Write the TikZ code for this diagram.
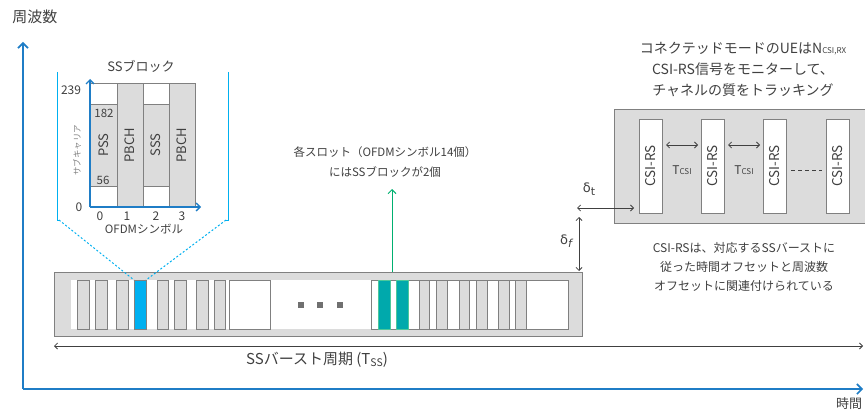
\documentclass[tikz,border=0pt]{standalone}
\usepackage{fontspec}
\setmainfont{Noto Sans CJK JP}
\newfontfamily\dvsans{DejaVu Sans}
\usetikzlibrary{arrows.meta}
\definecolor{axisblue}{HTML}{1F7DC6}
\definecolor{slotgray}{HTML}{DCDCDC}
\definecolor{lineg}{HTML}{808080}
\definecolor{txtg}{HTML}{404040}
\definecolor{ssblue}{HTML}{00B0F0}
\definecolor{teal}{HTML}{00A9AC}
\definecolor{greenl}{HTML}{00B070}
\definecolor{dotg}{HTML}{707070}
\tikzset{
  txt/.style={text=txtg, font=\fontsize{12}{20}\selectfont, align=center, inner sep=0pt},
  small/.style={text=txtg, font=\fontsize{11.5}{12}\selectfont, inner sep=0pt},
  rbox/.style={draw=lineg, line width=0.9pt, inner sep=0pt, outer sep=0pt, anchor=north west},
  slotbox/.style={rbox, fill=slotgray},
  wbox/.style={rbox, fill=white},
  axisln/.style={draw=axisblue, line width=2.4pt, -{Straight Barb[length=5pt,width=10pt,line width=1.6pt]}},
  inaxis/.style={draw=axisblue, line width=1.6pt, -{Straight Barb[length=4pt,width=8pt,line width=1.3pt]}},
  thinarr/.style={draw=txtg, line width=0.8pt, {Straight Barb[length=3pt,width=6pt]}-{Straight Barb[length=3pt,width=6pt]}},
  bracket/.style={draw=ssblue, line width=0.9pt},
  dotln/.style={draw=ssblue, line width=1pt, dash pattern=on 2pt off 2pt},
  coltxt/.style={txt, font=\fontsize{13}{14}\selectfont, rotate=90},
}
\begin{document}
\begin{tikzpicture}[x=1pt,y=-1pt]
\useasboundingbox (0,0) rectangle (865,412);
% main axes
\coordinate (o) at (23,389);
\coordinate (ftop) at (23,42);
\coordinate (tend) at (863,389);
\draw[axisln] (o) -- (ftop);
\draw[axisln] (o) -- (tend);
\node[txt, font=\fontsize{15}{17}\selectfont] (freq) at (35,17) {周波数};
\node[txt, font=\fontsize{13}{15}\selectfont] (time) at (849,404) {時間};

% burst bar
\node[slotbox, minimum width=528pt, minimum height=64pt] (bar) at (54,272) {};
\node[fill=white, inner sep=0pt, outer sep=0pt, anchor=north west, minimum width=497pt, minimum height=49pt] (inner) at (71,280) {};
\node[wbox, minimum width=41pt, minimum height=49pt] (boxA) at (229,280) {};
\node[wbox, minimum width=197pt, minimum height=49pt] (boxB) at (371,280) {};
\foreach \x/\w [count=\i] in {77/12,95/12,116/12,157/11,174/12,196/12,214/11,419/10,436/11,459/10,476/11,498/11,515/11}
  \node[slotbox, minimum width=\w pt, minimum height=49pt] (s\i) at (\x,280) {};
\node[rbox, fill=ssblue, minimum width=12pt, minimum height=49pt] (blueslot) at (134,280) {};
\node[rbox, draw=greenl!70, fill=teal, minimum width=12pt, minimum height=49pt] (teal1) at (378,280) {};
\node[rbox, draw=greenl!70, fill=teal, minimum width=12pt, minimum height=49pt] (teal2) at (396,280) {};
\foreach \x [count=\i] in {301,320,340}
  \node[fill=dotg, minimum size=6pt, inner sep=0pt] (dot\i) at (\x,305) {};

% burst period
\coordinate (bpL) at (54,346);
\coordinate (bpR) at (863,346);
\draw[thinarr] (bpL) -- (bpR);
\node[txt, font=\fontsize{15}{17}\selectfont] (bplabel) at (317,360) {SSバースト周期 (T{\fontsize{10.5}{11}\selectfont\raisebox{-1.5pt}{SS}})};

% slot annotation
\coordinate (g0) at (392,272);
\coordinate (g1) at (392,189);
\draw[draw=greenl, line width=1pt, -{Straight Barb[length=4pt,width=8pt]}] (g0) -- (g1);
\node[txt, font=\fontsize{11.5}{20}\selectfont] (slottext) at (385,162) {各スロット（OFDMシンボル14個）\\にはSSブロックが2個};

% SS block zoom
\node[txt, font=\fontsize{13}{15}\selectfont] (sstitle) at (141,66) {SSブロック};
\coordinate (bl0) at (57,72); \coordinate (bl1) at (57,220); \coordinate (bl2) at (59,220);
\coordinate (br0) at (228,72); \coordinate (br1) at (228,220); \coordinate (br2) at (226,220);
\draw[bracket] (bl0) -- (bl1) -- (bl2);
\draw[bracket] (br0) -- (br1) -- (br2);
\draw[dotln] (bl2) -- (blueslot.north west);
\draw[dotln] (br2) -- (blueslot.north east);

\node[wbox, minimum width=27pt, minimum height=124pt] (c0) at (90,83) {};
\node[slotbox, minimum width=27pt, minimum height=82pt] (pss) at (90,104) {};
\node[slotbox, minimum width=26pt, minimum height=124pt] (c1) at (117,83) {};
\node[wbox, minimum width=26pt, minimum height=124pt] (c2) at (143,83) {};
\node[slotbox, minimum width=26pt, minimum height=82pt] (sss) at (143,104) {};
\node[slotbox, minimum width=26pt, minimum height=124pt] (c3) at (169,83) {};
\node[coltxt] at (pss.center) {PSS};
\node[coltxt] at (c1.center) {PBCH};
\node[coltxt] at (sss.center) {SSS};
\node[coltxt] at (c3.center) {PBCH};
\coordinate (io) at (90,207);
\coordinate (itop) at (90,79);
\coordinate (iright) at (201,207);
\draw[inaxis] (io) -- (itop);
\draw[inaxis] (io) -- (iright);
\node[small, font=\fontsize{12}{12}\selectfont] (l239) at (71,90) {239};
\node[small, font=\fontsize{12}{12}\selectfont] (l0) at (79,207) {0};
\node[small] (l182) at (104,113) {182};
\node[small] (l56) at (103,180) {56};
\node[small, font=\fontsize{12}{12}\selectfont] (x0) at (100,216) {0};
\node[small, font=\fontsize{12}{12}\selectfont] (x1) at (127,216) {1};
\node[small, font=\fontsize{12}{12}\selectfont] (x2) at (156,216) {2};
\node[small, font=\fontsize{12}{12}\selectfont] (x3) at (182,216) {3};
\node[small] (xlab) at (144,229) {OFDMシンボル};
\node[text=gray, font=\fontsize{8.5}{10}\selectfont, inner sep=0pt, rotate=90] (ylab) at (77,150) {サブキャリア};

% CSI-RS region
\node[txt, font=\fontsize{14}{21}\selectfont] (csitext) at (743,69) {コネクテッドモードのUEはN{\fontsize{8}{9}\selectfont CSI,RX}\\CSI-RS信号をモニターして、\\チャネルの質をトラッキング};
\node[slotbox, minimum width=253pt, minimum height=114pt] (csibox) at (614,109) {};
\foreach \x [count=\i] in {639,701,763,826}
  \node[wbox, minimum width=23pt, minimum height=94pt, label={[coltxt, font=\fontsize{13.5}{14}\selectfont]center:CSI-RS}] (csi\i) at (\x,119) {};
\draw[thinarr] ([xshift=4pt, yshift=21pt]csi1.east) -- ([xshift=-3pt, yshift=21pt]csi2.west);
\draw[thinarr] ([xshift=4pt, yshift=21pt]csi2.east) -- ([xshift=-3pt, yshift=21pt]csi3.west);
\node[txt, font=\fontsize{12}{12}\selectfont] (tc1) at (682,170) {T{\fontsize{8}{8}\selectfont CSI}};
\node[txt, font=\fontsize{12}{12}\selectfont] (tc2) at (744,170) {T{\fontsize{8}{8}\selectfont CSI}};
\draw[draw=txtg, line width=0.8pt, dash pattern=on 4pt off 3pt] ([xshift=5pt, yshift=-4pt]csi3.east) -- ([xshift=-4pt, yshift=-4pt]csi4.west);

% offsets
\coordinate (dt0) at (577,208);
\coordinate (dt1) at (634,208);
\draw[thinarr] (dt0) -- (dt1);
\node[txt, font=\dvsans\fontsize{13}{14}\selectfont] (dtl) at (589,189) {δ\raisebox{-3pt}{\fontsize{11}{12}\selectfont t}};
\coordinate (df0) at (579,217);
\coordinate (df1) at (579,271);
\draw[thinarr] (df0) -- (df1);
\node[txt, font=\dvsans\fontsize{13}{14}\selectfont] (dfl) at (566,241) {δ\raisebox{-3pt}{\fontsize{11}{12}\selectfont\itshape f}};
\node[txt, font=\fontsize{12}{19}\selectfont] (csinote) at (744,267) {CSI-RSは、対応するSSバーストに\\従った時間オフセットと周波数\\オフセットに関連付けられている};
\end{tikzpicture}
\end{document}
